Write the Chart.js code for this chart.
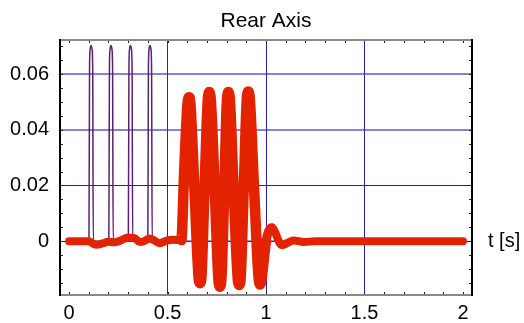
<!DOCTYPE html>
<html>
<head>
<meta charset="utf-8">
<script src="https://cdn.jsdelivr.net/npm/chart.js@4/dist/chart.umd.min.js"></script>
<style>
html,body{margin:0;padding:0;background:#fff;}
#wrap{width:524px;height:323px;position:relative;}
</style>
</head>
<body>
<div id="wrap"><canvas id="c" width="524" height="323"></canvas></div>
<script>
const chartTitle = 'Rear Axis';
const xAxisLabel = 't [s]';

const xTickValues = [0, 0.5, 1, 1.5, 2];
const xTickLabels = ['0', '0.5', '1', '1.5', '2'];
const yTickValues = [0, 0.02, 0.04, 0.06];
const yTickLabels = ['0', '0.02', '0.04', '0.06'];

// purple series (narrow pulses)
const tPurple = [0,
  0.101, 0.104, 0.107, 0.112, 0.117, 0.120, 0.123,
  0.202, 0.205, 0.208, 0.213, 0.218, 0.221, 0.224,
  0.301, 0.304, 0.307, 0.312, 0.317, 0.320, 0.323,
  0.400, 0.403, 0.406, 0.411, 0.416, 0.419, 0.422,
  2];
const vPurple = [0,
  0, 0.062, 0.0688, 0.0702, 0.0688, 0.062, 0,
  0, 0.062, 0.0688, 0.0702, 0.0688, 0.062, 0,
  0, 0.062, 0.0688, 0.0702, 0.0688, 0.062, 0,
  0, 0.062, 0.0688, 0.0702, 0.0688, 0.062, 0,
  0];

// red series (thick response)
const tRed = [0, 0.1, 0.12, 0.14, 0.17, 0.2, 0.23, 0.26, 0.3, 0.33, 0.36, 0.38, 0.41, 0.43, 0.46, 0.5, 0.53, 0.57,
  0.585, 0.603, 0.609, 0.615, 0.637, 0.659, 0.665, 0.671,
  0.688, 0.706, 0.712, 0.718, 0.74, 0.760, 0.766, 0.772,
  0.788, 0.803, 0.809, 0.815, 0.836, 0.858, 0.864, 0.870,
  0.887, 0.904, 0.91, 0.916, 0.94, 0.964, 0.97, 0.976,
  1.0, 1.03, 1.08, 1.14, 1.19, 1.25, 1.6, 2];
const vRed = [0, 0, -0.0008, -0.0013, -0.0008, -0.0002, -0.0004, 0.0002, 0.0013, 0.0012, -0.0003, 0, 0.001, 0.0004, -0.0007, 0.0003, 0.0005, 0.0004,
  0.026, 0.0505, 0.0517, 0.0502, 0.018, -0.0139, -0.0151, -0.0139,
  0.019, 0.0522, 0.0535, 0.0522, 0.018, -0.0151, -0.0163, -0.0151,
  0.018, 0.0522, 0.0535, 0.0522, 0.018, -0.0145, -0.0157, -0.0145,
  0.019, 0.0524, 0.0537, 0.0524, 0.018, -0.0143, -0.0155, -0.0143,
  0, 0.0048, -0.0014, 0.0003, -0.0003, 0, 0, 0];

const toXY = (ts, vs) => ts.map((t, i) => ({x: t, y: vs[i]}));

const FONT = '"Liberation Sans", Arial, sans-serif';

const framePlugin = {
  id: 'frame',
  afterDatasetsDraw(chart) {
    const {ctx, chartArea: a, scales: {x, y}} = chart;
    ctx.save();
    ctx.strokeStyle = '#222';
    ctx.lineWidth = 1;
    ctx.beginPath();
    for (let k = 0; k <= 20; k++) {
      const px = Math.round(x.getPixelForValue(k / 10)) + 0.5;
      ctx.moveTo(px, a.bottom); ctx.lineTo(px, a.bottom - 3);
      ctx.moveTo(px, a.top); ctx.lineTo(px, a.top + 3);
    }
    for (let k = -3; k <= 14; k++) {
      const py = Math.round(y.getPixelForValue(k * 0.005)) + 0.5;
      ctx.moveTo(a.left, py); ctx.lineTo(a.left + 3, py);
      ctx.moveTo(a.right, py); ctx.lineTo(a.right - 3, py);
    }
    ctx.stroke();
    ctx.lineWidth = 2;
    ctx.strokeStyle = '#888';
    ctx.beginPath();
    ctx.moveTo(a.left, a.top); ctx.lineTo(a.right, a.top);
    ctx.moveTo(a.left, a.bottom); ctx.lineTo(a.right, a.bottom);
    ctx.stroke();
    ctx.strokeStyle = '#000';
    ctx.beginPath();
    ctx.moveTo(a.left, a.top - 1); ctx.lineTo(a.left, a.bottom + 1);
    ctx.moveTo(a.right, a.top - 1); ctx.lineTo(a.right, a.bottom + 1);
    ctx.stroke();
    ctx.fillStyle = '#000';
    ctx.font = '21px ' + FONT;
    ctx.textAlign = 'center';
    ctx.textBaseline = 'alphabetic';
    ctx.fillText(chartTitle, (a.left + a.right) / 2, 27);
    ctx.font = '20px ' + FONT;
    ctx.textAlign = 'left';
    ctx.textBaseline = 'middle';
    ctx.fillText(xAxisLabel, a.right + 16, y.getPixelForValue(0));
    ctx.restore();
  }
};

new Chart(document.getElementById('c'), {
  type: 'line',
  data: {
    datasets: [
      {
        data: toXY(tRed, vRed),
        borderColor: '#e32200',
        borderWidth: 8,
        borderCapStyle: 'round',
        borderJoinStyle: 'round',
        pointRadius: 0,
        cubicInterpolationMode: 'monotone',
        segment: {
          borderWidth: c => (c.p0.parsed.x >= 0.57 && c.p1.parsed.x <= 1.0) ? 10.5 : (c.p1.parsed.x <= 1.03 && c.p0.parsed.x >= 0.97 ? 9 : 8)
        },
        order: 1
      },
      {
        data: toXY(tPurple, vPurple),
        borderColor: '#5a2170',
        borderWidth: 1.5,
        pointRadius: 0,
        cubicInterpolationMode: 'monotone',
        order: 2
      }
    ]
  },
  options: {
    responsive: false,
    animation: false,
    events: [],
    layout: {padding: {top: 40, right: 52, left: 0, bottom: 0}},
    plugins: {legend: {display: false}, tooltip: {enabled: false}, title: {display: false}},
    scales: {
      x: {
        type: 'linear',
        min: -0.046, max: 2.046,
        afterBuildTicks: s => { s.ticks = xTickValues.map(v => ({value: v})); },
        afterFit: s => { s.height = 28; },
        border: {display: false},
        grid: {
          drawTicks: false,
          color: c => (c.tick && (c.tick.value === 0 || c.tick.value === 2)) ? 'rgba(0,0,0,0)' : '#2424b4',
          lineWidth: 1
        },
        ticks: {
          padding: 6,
          color: '#000',
          font: {family: FONT, size: 20},
          maxRotation: 0,
          autoSkip: false,
          callback: (v, i) => xTickLabels[i]
        }
      },
      y: {
        type: 'linear',
        min: -0.0193, max: 0.0722,
        afterBuildTicks: s => { s.ticks = yTickValues.map(v => ({value: v})); },
        afterFit: s => { s.width = 60; },
        border: {display: false},
        grid: {
          drawTicks: false,
          color: c => (c.tick && c.tick.value >= 0.03) ? 'rgba(50,50,185,0.6)' : '#20209e',
          lineWidth: c => (c.tick && c.tick.value >= 0.03) ? 2 : 1
        },
        ticks: {
          padding: 11,
          color: '#000',
          font: {family: FONT, size: 20},
          autoSkip: false,
          callback: (v, i) => yTickLabels[i]
        }
      }
    }
  },
  plugins: [framePlugin]
});
</script>
</body>
</html>
